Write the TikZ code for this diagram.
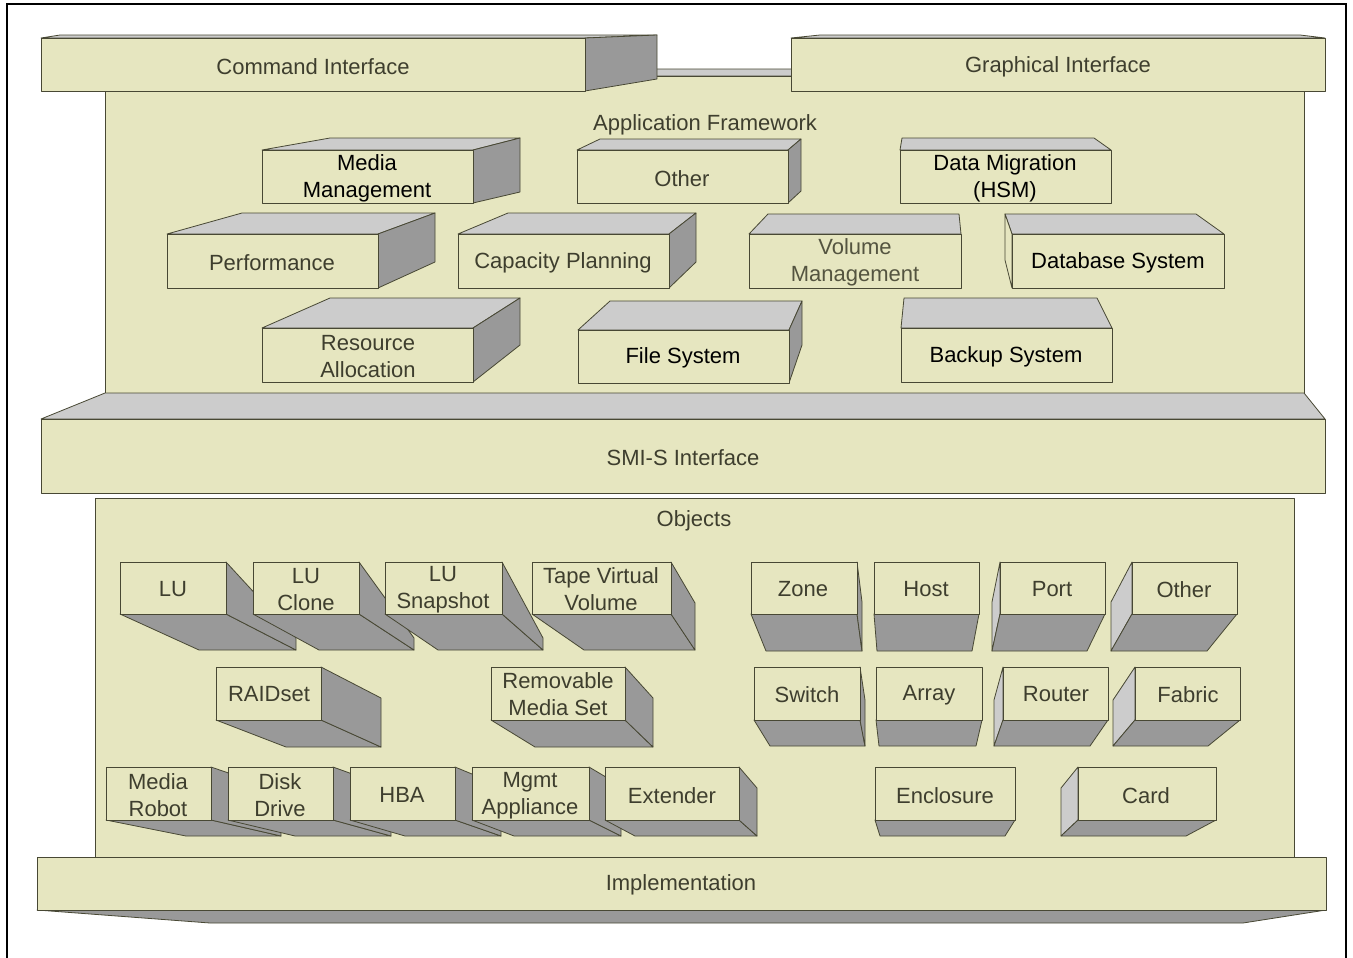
\documentclass[tikz,border=0pt]{standalone}
\usepackage{fontspec}
\setmainfont{Liberation Sans}
\definecolor{beige}{RGB}{230,230,192}
\definecolor{lgray}{RGB}{204,204,204}
\definecolor{dgray}{RGB}{153,153,153}
\definecolor{edge}{RGB}{72,72,52}
\definecolor{txt}{RGB}{62,62,46}
\definecolor{txtl}{RGB}{84,84,64}
\tikzset{
  frontface/.style={fill=beige,draw=edge,line width=0.6pt,line join=round},
  topface/.style={fill=lgray,draw=edge,line width=0.6pt,line join=round},
  sideface/.style={fill=dgray,draw=edge,line width=0.6pt,line join=round},
  lbl/.style={font=\fontsize{16.5}{20.25}\selectfont,text=txt,align=center,inner sep=0pt,yshift=-1.8pt},
  lblk/.style={lbl,text=black},
  lbll/.style={lbl,text=txtl}
}
\begin{document}
\begin{tikzpicture}[x=0.75pt,y=-0.75pt]
\useasboundingbox (0,0) rectangle (1353,957);
% outer frame
\draw[line width=1.5pt,black] (7,965) -- (7,4) -- (1346,4) -- (1346,965);

% Application framework body and top strip
\filldraw[topface] (120,69) -- (1290,69) -- (1304,76) -- (105,76) -- cycle;
\filldraw[frontface] (105,76) rectangle (1304,393);

% Command Interface
\filldraw[topface] (41,38) -- (60,35) -- (657,35) -- (585,38) -- cycle;
\filldraw[sideface] (585,38) -- (657,35) -- (657,79) -- (585,91) -- cycle;
\filldraw[frontface] (41,38) rectangle (585,91);
\node[lbl] (cmd) at (313,64) {Command Interface};

% Graphical Interface
\filldraw[topface] (791,38) -- (820,35) -- (1300,35) -- (1325,38) -- cycle;
\filldraw[frontface] (791,38) rectangle (1325,91);
\node[lbl] (gui) at (1058,64) {Graphical Interface};

\node[lbl] (appfw) at (705,122) {Application Framework};

% Media Management
\filldraw[topface] (262,150) -- (330,138) -- (520,138) -- (473,150) -- cycle;
\filldraw[sideface] (473,150) -- (520,138) -- (520,192) -- (473,203) -- cycle;
\filldraw[frontface] (262,150) rectangle (473,203);
\node[lblk] (mm) at (367,176) {Media\\Management};

% Other (application)
\filldraw[topface] (577,150) -- (600,139) -- (801,139) -- (788,150) -- cycle;
\filldraw[sideface] (788,150) -- (801,139) -- (801,191) -- (788,203) -- cycle;
\filldraw[frontface] (577,150) rectangle (788,203);
\node[lbl] (oth1) at (682,176) {Other};

% Data Migration
\filldraw[topface] (900,150) -- (902,138) -- (1094,138) -- (1111,150) -- cycle;
\filldraw[frontface] (900,150) rectangle (1111,203);
\node[lblk] (dm) at (1005,176) {Data Migration\\(HSM)};

% Performance
\filldraw[topface] (167,234) -- (242,213) -- (435,213) -- (378,234) -- cycle;
\filldraw[sideface] (378,234) -- (435,213) -- (435,262) -- (378,288) -- cycle;
\filldraw[frontface] (167,234) rectangle (378,288);
\node[lbl] (perf) at (272,260) {Performance};

% Capacity Planning
\filldraw[topface] (458,234) -- (508,213) -- (696,213) -- (669,234) -- cycle;
\filldraw[sideface] (669,234) -- (696,213) -- (696,262) -- (669,288) -- cycle;
\filldraw[frontface] (458,234) rectangle (669,288);
\node[lbl] (cap) at (563,260) {Capacity Planning};

% Volume Management
\filldraw[topface] (749,234) -- (768,214) -- (959,214) -- (961,234) -- cycle;
\filldraw[frontface] (749,234) rectangle (961,288);
\node[lbll] (vol) at (855,260) {Volume\\Management};

% Database System
\filldraw[topface] (1012,234) -- (1005,214) -- (1196,214) -- (1224,234) -- cycle;
\filldraw[frontface] (1012,234) -- (1005,214) -- (1005,260) -- (1012,288) -- cycle;
\filldraw[frontface] (1012,234) rectangle (1224,288);
\node[lblk] (db) at (1118,260) {Database System};

% Resource Allocation
\filldraw[topface] (262,328) -- (330,298) -- (520,298) -- (473,328) -- cycle;
\filldraw[sideface] (473,328) -- (520,298) -- (520,345) -- (473,382) -- cycle;
\filldraw[frontface] (262,328) rectangle (473,382);
\node[lbl] (res) at (368,354) {Resource\\Allocation};

% File System
\filldraw[topface] (578,330) -- (610,301) -- (802,301) -- (789,330) -- cycle;
\filldraw[sideface] (789,330) -- (802,301) -- (802,345) -- (789,383) -- cycle;
\filldraw[frontface] (578,330) rectangle (789,383);
\node[lblk] (fs) at (683,355) {File System};

% Backup System
\filldraw[topface] (901,328) -- (904,298) -- (1097,298) -- (1112,328) -- cycle;
\filldraw[frontface] (901,328) rectangle (1112,382);
\node[lblk] (bk) at (1006,354) {Backup System};

% SMI-S Interface
\filldraw[topface] (105,393) -- (1304,393) -- (1325,419) -- (41,419) -- cycle;
\filldraw[frontface] (41,419) rectangle (1325,493);
\node[lbl] (smis) at (683,455) {SMI-S Interface};

% Objects body
\filldraw[frontface] (95,498) rectangle (1294,857);
\node[lbl] (objs) at (694,518) {Objects};

% Row 1 left
\filldraw[sideface] (120,614) -- (226,614) -- (296,650) -- (199,650) -- cycle;
\filldraw[sideface] (226,562) -- (296,638) -- (296,650) -- (226,614) -- cycle;
\filldraw[frontface] (120,562) rectangle (226,614);
\node[lbl] (lu) at (173,587) {LU};

\filldraw[sideface] (253,614) -- (359,614) -- (414,650) -- (319,650) -- cycle;
\filldraw[sideface] (359,562) -- (414,638) -- (414,650) -- (359,614) -- cycle;
\filldraw[frontface] (253,562) rectangle (359,614);
\node[lbl] (luc) at (306,587) {LU\\Clone};

\filldraw[sideface] (385,614) -- (502,614) -- (543,650) -- (438,650) -- cycle;
\filldraw[sideface] (502,562) -- (543,638) -- (543,650) -- (502,614) -- cycle;
\filldraw[frontface] (385,562) rectangle (502,614);
\node[lbl] (lus) at (443,587) {LU\\Snapshot};

\filldraw[sideface] (532,614) -- (671,614) -- (695,650) -- (584,650) -- cycle;
\filldraw[sideface] (671,562) -- (695,603) -- (695,650) -- (671,614) -- cycle;
\filldraw[frontface] (532,562) rectangle (671,614);
\node[lbl] (tvv) at (601,587) {Tape Virtual\\Volume};

% Row 2 left
\filldraw[sideface] (216,720) -- (321,720) -- (381,747) -- (286,747) -- cycle;
\filldraw[sideface] (321,667) -- (381,698) -- (381,747) -- (321,720) -- cycle;
\filldraw[frontface] (216,667) rectangle (321,720);
\node[lbl] (raid) at (269,692) {RAIDset};

\filldraw[sideface] (491,720) -- (625,720) -- (653,747) -- (535,747) -- cycle;
\filldraw[sideface] (625,667) -- (653,698) -- (653,747) -- (625,720) -- cycle;
\filldraw[frontface] (491,667) rectangle (625,720);
\node[lbl] (rms) at (558,692) {Removable\\Media Set};

% Row 1 right
\filldraw[sideface] (751,614) -- (857,614) -- (862,651) -- (766,651) -- cycle;
\filldraw[sideface] (857,562) -- (862,602) -- (862,651) -- (857,614) -- cycle;
\filldraw[frontface] (751,562) rectangle (857,614);
\node[lbl] (zone) at (803,587) {Zone};

\filldraw[sideface] (874,614) -- (979,614) -- (972,651) -- (877,651) -- cycle;
\filldraw[frontface] (874,562) rectangle (979,614);
\node[lbl] (host) at (926,587) {Host};

\filldraw[topface] (1000,562) -- (992,602) -- (992,651) -- (1000,614) -- cycle;
\filldraw[sideface] (1000,614) -- (1105,614) -- (1087,651) -- (992,651) -- cycle;
\filldraw[frontface] (1000,562) rectangle (1105,614);
\node[lbl] (port) at (1052,587) {Port};

\filldraw[topface] (1132,562) -- (1111,602) -- (1111,651) -- (1132,614) -- cycle;
\filldraw[sideface] (1132,614) -- (1237,614) -- (1207,651) -- (1111,651) -- cycle;
\filldraw[frontface] (1132,562) rectangle (1237,614);
\node[lbl] (oth2) at (1184,587) {Other};

% Row 2 right
\filldraw[sideface] (754,720) -- (860,720) -- (865,746) -- (770,746) -- cycle;
\filldraw[sideface] (860,667) -- (865,700) -- (865,746) -- (860,720) -- cycle;
\filldraw[frontface] (754,667) rectangle (860,720);
\node[lbl] (sw) at (807,692) {Switch};

\filldraw[sideface] (876,720) -- (982,720) -- (976,746) -- (879,746) -- cycle;
\filldraw[frontface] (876,667) rectangle (982,720);
\node[lbl] (arr) at (929,692) {\vphantom{h}Array};

\filldraw[topface] (1003,667) -- (994,700) -- (994,746) -- (1003,720) -- cycle;
\filldraw[sideface] (1003,720) -- (1108,720) -- (1090,746) -- (994,746) -- cycle;
\filldraw[frontface] (1003,667) rectangle (1108,720);
\node[lbl] (rtr) at (1056,692) {Router};

\filldraw[topface] (1135,667) -- (1113,700) -- (1113,746) -- (1135,720) -- cycle;
\filldraw[sideface] (1135,720) -- (1240,720) -- (1208,746) -- (1113,746) -- cycle;
\filldraw[frontface] (1135,667) rectangle (1240,720);
\node[lbl] (fab) at (1188,692) {Fabric};

% Row 3 left
\filldraw[sideface] (106,820) -- (211,820) -- (281,836) -- (186,836) -- cycle;
\filldraw[sideface] (211,767) -- (281,791) -- (281,836) -- (211,820) -- cycle;
\filldraw[frontface] (106,767) rectangle (211,820);
\node[lbl] (mr) at (158,793) {Media\\Robot};

\filldraw[sideface] (228,820) -- (333,820) -- (391,836) -- (295,836) -- cycle;
\filldraw[sideface] (333,767) -- (391,788) -- (391,836) -- (333,820) -- cycle;
\filldraw[frontface] (228,767) rectangle (333,820);
\node[lbl] (dd) at (280,793) {Disk\\Drive};

\filldraw[sideface] (350,820) -- (455,820) -- (501,836) -- (405,836) -- cycle;
\filldraw[sideface] (455,767) -- (501,786) -- (501,836) -- (455,820) -- cycle;
\filldraw[frontface] (350,767) rectangle (455,820);
\node[lbl] (hba) at (402,793) {HBA};

\filldraw[sideface] (472,820) -- (589,820) -- (621,836) -- (514,836) -- cycle;
\filldraw[sideface] (589,767) -- (621,786) -- (621,836) -- (589,820) -- cycle;
\filldraw[frontface] (472,767) rectangle (589,820);
\node[lbl] (mga) at (530,793) {Mgmt\\Appliance};

\filldraw[sideface] (605,820) -- (739,820) -- (757,836) -- (635,836) -- cycle;
\filldraw[sideface] (739,767) -- (757,788) -- (757,836) -- (739,820) -- cycle;
\filldraw[frontface] (605,767) rectangle (739,820);
\node[lbl] (ext) at (672,793) {Extender};

% Row 3 right
\filldraw[sideface] (875,820) -- (1015,820) -- (1005,836) -- (880,836) -- cycle;
\filldraw[frontface] (875,767) rectangle (1015,820);
\node[lbl] (enc) at (945,793) {Enclosure};

\filldraw[topface] (1078,767) -- (1061,788) -- (1061,836) -- (1078,820) -- cycle;
\filldraw[sideface] (1078,820) -- (1216,820) -- (1186,836) -- (1061,836) -- cycle;
\filldraw[frontface] (1078,767) rectangle (1216,820);
\node[lbl] (card) at (1146,793) {Card};

% Implementation
\filldraw[sideface] (37,910) -- (1326,910) -- (1243,923) -- (210,923) -- cycle;
\filldraw[frontface] (37,857) rectangle (1326,910);
\node[lbl] (impl) at (681,882) {Implementation};
\end{tikzpicture}
\end{document}
